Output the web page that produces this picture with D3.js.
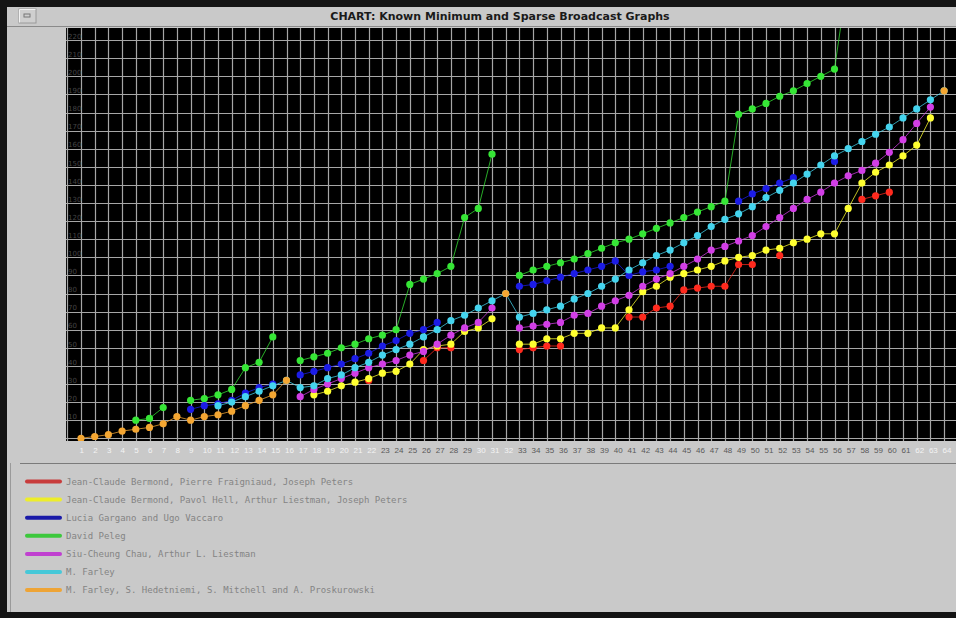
<!DOCTYPE html>
<html>
<head>
<meta charset="utf-8">
<script src="https://cdn.jsdelivr.net/npm/d3@7/dist/d3.min.js"></script>
<style>
  html, body { margin: 0; padding: 0; background: #c9c9c9; }
  svg { display: block; }
</style>
</head>
<body>
<svg id="chart" width="956" height="618"></svg>
<script>
// number of vertices n (x axis categories)
var nLabels = [1,2,3,4,5,6,7,8,9,10,11,12,13,14,15,16,17,18,19,20,21,22,23,24,25,26,27,28,29,30,31,32,
  33,34,35,36,37,38,39,40,41,42,43,44,45,46,47,48,49,50,51,52,53,54,55,56,57,58,59,60,61,62,63,64];
// n where the minimum is known (drawn with light labels)
var knownN = [1,2,3,4,5,6,7,8,9,10,11,12,13,14,15,16,17,18,19,20,21,22,30,31,32,62,63,64];
var yTicks = [10,20,30,40,50,60,70,80,90,100,110,120,130,140,150,160,170,180,190,200,210,220];

// edges per n (index 0 = n 1), null = no point
var redEdges = [
  null,null,null,null,null,null,null,null,null,null,null,null,null,null,null,null,
  null,null,null,null,null,32,null,null,null,43,50,50,null,null,null,null,
  49,50,51,51,null,null,null,null,67,67,72,73,82,83,84,84,
  96,96,null,101,null,null,null,null,null,132,134,136,null,null,null,null];
var yellowEdges = [
  null,null,null,null,null,null,null,null,null,null,null,null,null,null,null,null,
  null,24,26,29,31,33,36,37,41,49,51,52,59,61,66,null,
  52,52,55,55,58,58,61,61,71,81,84,89,91,93,95,98,
  100,101,104,105,108,110,113,113,127,141,147,151,156,162,177,null];
var blueEdges = [
  null,null,null,null,null,null,null,null,16,18,19,21,25,28,30,null,
  35,37,39,41,44,47,51,54,58,60,64,null,null,null,null,null,
  84,85,87,89,91,93,95,98,90,92,93,95,null,null,null,null,
  131,135,138,141,144,null,null,153,null,null,null,null,null,null,null,null];
var greenEdges = [
  null,null,null,null,10,11,17,null,21,22,24,27,39,42,56,null,
  43,45,47,50,52,55,57,60,85,88,91,95,122,127,157,null,
  90,93,95,97,99,102,105,108,110,113,116,119,122,125,128,131,
  179,182,185,189,192,196,200,204,256,null,null,null,null,null,null,null];
var magentaEdges = [
  null,null,null,null,null,null,null,null,null,null,null,null,null,null,null,null,
  23,27,30,33,36,39,41,43,46,48,52,57,61,64,72,null,
  61,62,63,64,68,69,73,76,79,84,88,91,95,99,104,106,
  109,112,117,122,127,132,136,141,145,148,152,158,165,174,183,null];
var cyanEdges = [
  null,null,null,null,null,null,null,null,null,null,18,20,23,26,29,32,
  28,29,33,35,39,42,46,49,52,56,60,65,68,72,76,80,
  67,69,71,73,77,80,84,88,93,97,101,104,108,112,117,121,
  124,128,133,137,141,146,151,156,160,164,168,172,177,182,187,192];
var orangeEdges = [
  0,1,2,4,5,6,8,12,10,12,13,15,18,21,24,32,
  null,null,null,null,null,null,null,null,null,null,null,null,null,null,null,80,
  null,null,null,null,null,null,null,null,null,null,null,null,null,null,null,null,
  null,null,null,null,null,null,null,null,null,null,null,null,null,null,null,192];

var seriesNames = [
  "Jean-Claude Bermond, Pierre Fraigniaud, Joseph Peters",
  "Jean-Claude Bermond, Pavol Hell, Arthur Liestman, Joseph Peters",
  "Lucia Gargano and Ugo Vaccaro",
  "David Peleg",
  "Siu-Cheung Chau, Arthur L. Liestman",
  "M. Farley",
  "M. Farley, S. Hedetniemi, S. Mitchell and A. Proskurowski"
];
var seriesValues = [redEdges, yellowEdges, blueEdges, greenEdges, magentaEdges, cyanEdges, orangeEdges];
var dotColors = ["#ff2a1e", "#ffff30", "#1c1ce6", "#36e636", "#d23ee6", "#44d4ee", "#f4a632"];
var keyColors = ["#c83c3c", "#eeee2a", "#1a1aa8", "#3cc83c", "#c040d0", "#46c8d8", "#eea436"];

var svg = d3.select("#chart");

// window frame
svg.append("rect").attr("width", 956).attr("height", 618).attr("fill", "#141414");
svg.append("rect").attr("x", 7).attr("y", 7).attr("width", 949).attr("height", 605).attr("fill", "#c9c9c9");

// title bar
svg.append("line").attr("x1", 7).attr("x2", 956).attr("y1", 26.5).attr("y2", 26.5).attr("stroke", "#8a8a8a");
var btn = svg.append("g").attr("transform", "translate(19,9)");
btn.append("rect").attr("width", 17).attr("height", 14).attr("fill", "#cfcfcf").attr("stroke", "#9a9a9a");
btn.append("path").attr("d", "M0.5,13.5V0.5H16.5").attr("fill", "none").attr("stroke", "#f2f2f2");
btn.append("rect").attr("x", 5).attr("y", 5).attr("width", 6).attr("height", 3).attr("fill", "none").attr("stroke", "#777");
svg.append("text")
  .attr("x", 500).attr("y", 20)
  .attr("text-anchor", "middle")
  .style("font-family", "'DejaVu Sans', sans-serif")
  .style("font-weight", "bold")
  .style("font-size", "11px")
  .style("fill", "#1a1a1a")
  .text("CHART: Known Minimum and Sparse Broadcast Graphs");

// scales
var x = d3.scaleLinear().domain([0, 65]).range([67.3, 957.8]);
var y = d3.scaleLinear().domain([0, 226.7]).range([438.3, 28]);

// plot background
svg.append("rect").attr("x", 66).attr("y", 28).attr("width", 890).attr("height", 413).attr("fill", "#000");

var clip = svg.append("clipPath").attr("id", "plotClip");
clip.append("rect").attr("x", 66).attr("y", 28).attr("width", 890).attr("height", 413);

var grid = svg.append("g").attr("clip-path", "url(#plotClip)");
grid.selectAll(".vgrid")
  .data(d3.range(0, 66))
  .enter().append("line")
  .attr("x1", function(d) { return Math.round(x(d)) + 0.5; })
  .attr("x2", function(d) { return Math.round(x(d)) + 0.5; })
  .attr("y1", 28).attr("y2", 441)
  .attr("stroke", "#a6a6a6").attr("stroke-width", 1.2);
grid.selectAll(".hgrid")
  .data([0].concat(yTicks))
  .enter().append("line")
  .attr("x1", 66).attr("x2", 956)
  .attr("y1", function(d) { return Math.round(y(d)) + 0.5; })
  .attr("y2", function(d) { return Math.round(y(d)) + 0.5; })
  .attr("stroke", "#a6a6a6").attr("stroke-width", 1.2);

// y labels, faint, inside the plot
var yAxis = svg.append("g")
  .attr("transform", "translate(67,0)")
  .call(d3.axisRight(y).tickValues(yTicks).tickSize(0).tickPadding(1));
yAxis.select(".domain").remove();
yAxis.selectAll("text")
  .attr("dy", "-0.25em")
  .style("font-family", "'DejaVu Sans', sans-serif")
  .style("font-size", "7px")
  .style("fill", "#444");

// x labels below the plot
var xAxis = svg.append("g")
  .attr("transform", "translate(0,441)")
  .call(d3.axisBottom(x).tickValues(nLabels).tickSize(0).tickPadding(6));
xAxis.select(".domain").remove();
xAxis.selectAll("text")
  .attr("text-anchor", "start")
  .attr("dx", "-2")
  .style("font-family", "'Liberation Sans', sans-serif")
  .style("font-size", "8px")
  .style("fill", function(d) { return knownN.indexOf(d) >= 0 ? "#f4f4f4" : "#5a5a5a"; });

// series lines and dots
var marks = svg.append("g").attr("clip-path", "url(#plotClip)");
var line = d3.line()
  .defined(function(d) { return d.v !== null; })
  .x(function(d) { return x(d.n); })
  .y(function(d) { return y(d.v); });

seriesValues.forEach(function(vals, i) {
  var pts = vals.map(function(v, k) { return {n: nLabels[k], v: v}; });
  marks.append("path")
    .datum(pts)
    .attr("d", line)
    .attr("fill", "none")
    .attr("stroke", dotColors[i])
    .attr("stroke-opacity", 0.75)
    .attr("stroke-width", 1);
});
seriesValues.forEach(function(vals, i) {
  var pts = vals.map(function(v, k) { return {n: nLabels[k], v: v}; })
    .filter(function(d) { return d.v !== null; });
  marks.selectAll(".dot" + i)
    .data(pts)
    .enter().append("circle")
    .attr("cx", function(d) { return x(d.n); })
    .attr("cy", function(d) { return y(d.v); })
    .attr("r", 3.6)
    .attr("fill", dotColors[i]);
});

// legend panel
svg.append("line").attr("x1", 20).attr("x2", 956).attr("y1", 463.5).attr("y2", 463.5).attr("stroke", "#7a7a7a");
svg.append("line").attr("x1", 10.5).attr("x2", 10.5).attr("y1", 463).attr("y2", 612).attr("stroke", "#9a9a9a");

var key = svg.selectAll(".key")
  .data(seriesNames)
  .enter().append("g")
  .attr("transform", function(d, i) { return "translate(0," + (481.5 + i * 18.1) + ")"; });
key.append("line")
  .attr("x1", 27).attr("x2", 60)
  .attr("stroke", function(d, i) { return keyColors[i]; })
  .attr("stroke-width", 4)
  .attr("stroke-linecap", "round");
key.append("text")
  .attr("x", 66).attr("y", 3)
  .style("font-family", "'DejaVu Sans Mono', monospace")
  .style("font-size", "9px")
  .style("fill", "#848484")
  .text(function(d) { return d; });
</script>
</body>
</html>
